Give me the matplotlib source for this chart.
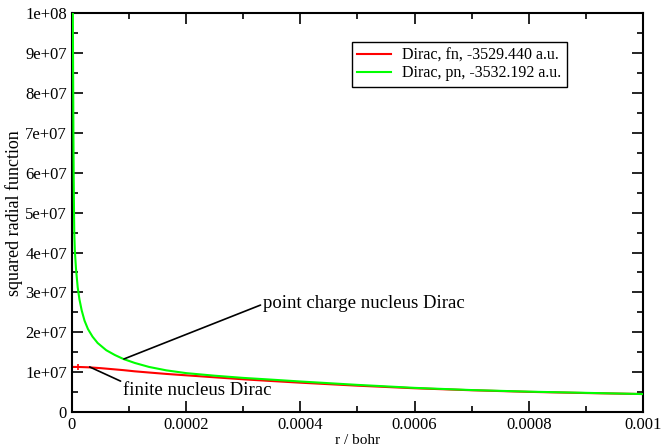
import matplotlib
matplotlib.use("Agg")
import matplotlib.pyplot as plt
from matplotlib.ticker import MultipleLocator, FuncFormatter

plt.rcParams['font.family'] = ['Liberation Serif', 'DejaVu Serif']

# finite nucleus (red)
fn_r = [0.0, 1e-5, 2e-5, 3e-5, 5e-5, 7e-5, 9e-5, 1.1e-4, 1.35e-4, 1.65e-4,
        2e-4, 2.5e-4, 3e-4, 3.4e-4, 4e-4, 5e-4, 6e-4, 7e-4, 8e-4, 9e-4, 1e-3]
fn_val = [1.13e7, 1.13e7, 1.125e7, 1.12e7, 1.10e7, 1.075e7, 1.05e7, 1.02e7, 0.99e7, 0.955e7,
          0.92e7, 0.87e7, 0.82e7, 0.785e7, 0.735e7, 0.66e7, 0.595e7, 0.545e7, 0.505e7, 0.475e7, 0.45e7]

# point nucleus (green)
pn_r = [1e-6, 1.5e-6, 2e-6, 2.5e-6, 3e-6, 3.5e-6, 4e-6, 5e-6, 7e-6, 1e-5, 1.3e-5, 1.7e-5, 2.2e-5,
        2.8e-5, 3.6e-5, 4.5e-5, 6e-5, 7.5e-5, 9e-5, 1.1e-4, 1.35e-4, 1.65e-4, 2e-4,
        2.5e-4, 3e-4, 3.4e-4, 4e-4, 5e-4, 6e-4, 7e-4, 8e-4, 9e-4, 1e-3]
pn_val = [1.2e8, 1.0e8, 8.5e7, 7.0e7, 5.9e7, 5.1e7, 4.5e7, 4.05e7, 3.6e7, 3.13e7, 2.83e7, 2.55e7, 2.29e7,
          2.08e7, 1.89e7, 1.73e7, 1.55e7, 1.43e7, 1.33e7, 1.23e7, 1.13e7, 1.045e7, 0.975e7,
          0.91e7, 0.855e7, 0.82e7, 0.765e7, 0.68e7, 0.605e7, 0.55e7, 0.51e7, 0.48e7, 0.45e7]

labels = ["Dirac, fn, -3529.440 a.u.", "Dirac, pn, -3532.192 a.u."]

fig = plt.figure(figsize=(6.64, 4.48), dpi=100)
ax = fig.add_axes([0.1084, 0.0804, 0.86, 0.8896])

ax.plot(fn_r, fn_val, color='red', lw=1.5, label=labels[0])
ax.plot(pn_r, pn_val, color='#00ff00', lw=1.5, label=labels[1], zorder=2.6)
ax.plot([fn_r[1]], [fn_val[1]], marker='+', color='red', ms=4, mew=1.2)

ax.set_xlim(0, 0.001)
ax.set_ylim(0, 1e8)
ax.xaxis.set_major_locator(MultipleLocator(0.0002))
ax.xaxis.set_minor_locator(MultipleLocator(0.0001))
ax.yaxis.set_major_locator(MultipleLocator(1e7))
ax.yaxis.set_minor_locator(MultipleLocator(5e6))

def xfmt(v, pos):
    return "0" if abs(v) < 1e-12 else ("%g" % v)

def yfmt(v, pos):
    if v == 0:
        return "0"
    return "%.0e" % v

ax.xaxis.set_major_formatter(FuncFormatter(xfmt))
ax.yaxis.set_major_formatter(FuncFormatter(yfmt))

ax.tick_params(which='both', direction='in', top=True, right=True, labelsize=12, width=1.2)
ax.tick_params(which='major', length=8)
ax.tick_params(which='minor', length=4)
for s in ax.spines.values():
    s.set_linewidth(1.5)

ax.set_xlabel("r / bohr", fontsize=11, labelpad=1)
ax.set_ylabel("squared radial function", fontsize=13, labelpad=2)

leg = ax.legend(loc='upper left', bbox_to_anchor=(0.490, 0.928), borderaxespad=0,
                fancybox=False, edgecolor='black', framealpha=1, fontsize=11.5,
                handlelength=2.1, borderpad=0.35, labelspacing=0.1, handletextpad=0.7)
leg.get_frame().set_linewidth(1.0)

ax.annotate("point charge nucleus Dirac", xy=(9.1e-5, 1.33e7), xytext=(0.000335, 2.71e7),
            fontsize=13.5, va='center', ha='left',
            arrowprops=dict(arrowstyle='-', color='black', lw=1.2, shrinkA=0, shrinkB=0,
                            relpos=(0, 0.5)))
ax.annotate("finite nucleus Dirac", xy=(3.1e-5, 1.13e7), xytext=(9.0e-5, 0.55e7),
            fontsize=13.5, va='center', ha='left',
            arrowprops=dict(arrowstyle='-', color='black', lw=1.2, shrinkA=0, shrinkB=0,
                            relpos=(0, 0.95)))

fig.savefig("out.png", dpi=100)
